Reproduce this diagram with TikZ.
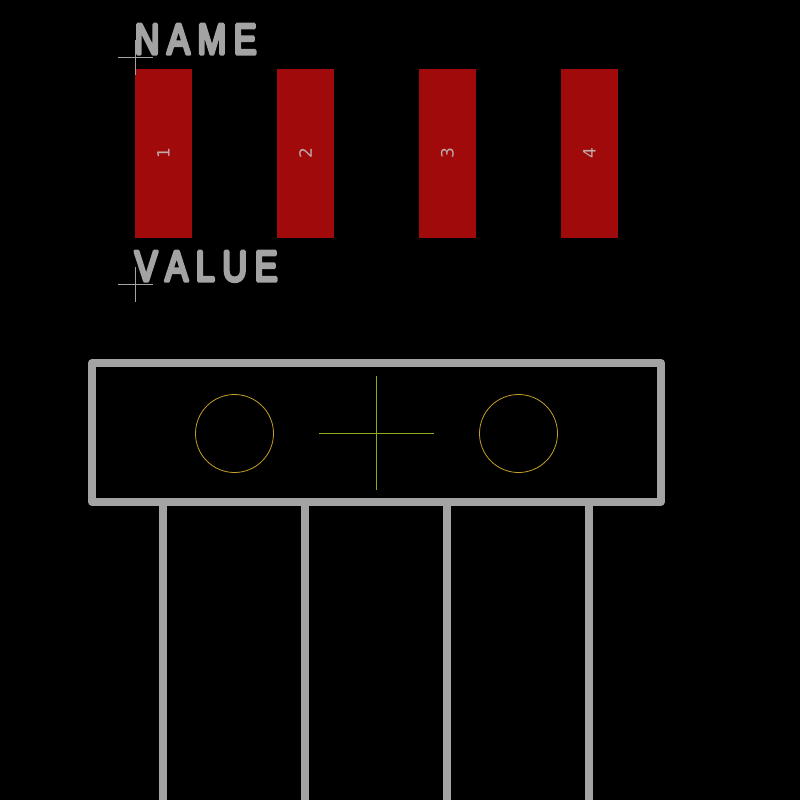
\documentclass[tikz,border=0pt]{standalone}
\usepackage{fontspec}
\setmainfont{DejaVu Sans}
\newfontfamily\silkfont[FakeBold=8,LetterSpace=22,Kerning=Off]{Liberation Sans}
\definecolor{padred}{RGB}{160,10,10}
\definecolor{silk}{RGB}{163,163,163}
\definecolor{padtext}{RGB}{190,170,170}
\definecolor{fabyellow}{RGB}{140,170,30}
\definecolor{holeyellow}{RGB}{194,160,40}
\tikzset{
  silkline/.style={draw=silk,line width=8pt,line cap=round,line join=round},
  padbox/.style={fill=padred,draw=none,minimum width=57pt,minimum height=169pt,inner sep=0pt,outer sep=0pt},
  padlabel/.style={text=padtext,font=\fontsize{17}{17}\selectfont,rotate=90,inner sep=0pt},
  refmark/.style={draw=silk,line width=1pt},
  fabline/.style={draw=fabyellow,line width=1pt},
  holeline/.style={draw=holeyellow,line width=0.8pt},
  silktext/.style={text=silk,font=\silkfont\fontsize{43}{43}\selectfont,anchor=base west,inner sep=0pt,xscale=0.80,transform shape}
}
\begin{document}
\begin{tikzpicture}[x=1pt,y=-1pt,line join=round]
\useasboundingbox[fill=black] (0,0) rectangle (800,800);
% pads
\foreach \i/\x in {1/163.5,2/305.5,3/447.5,4/589.5}{
  \node[padbox] (pad\i) at (\x,153.5) {};
  \node[padlabel] (plabel\i) at (pad\i) {\i};
}
% reference marks
\draw[refmark] (118,57.5) -- (153,57.5);
\draw[refmark] (135.5,40) -- (135.5,75);
\draw[refmark] (118,284.5) -- (153,284.5);
\draw[refmark] (135.5,267) -- (135.5,302);
% text
\begin{scope}[line join=round]
\node[silktext] (nametext) at (134.5,54) {NAME};
\node[silktext] (valuetext) at (134.5,281) {VALUE};
\end{scope}
% body
\draw[silkline] (92,363) rectangle (661,501.5);
\foreach \x in {163,305,447,589}{
  \draw[silkline,line cap=butt] (\x,501.5) -- (\x,800);
}
% holes
\draw[holeline] (234.5,433.5) circle (39);
\draw[holeline] (518.5,433.5) circle (39);
% centre
\draw[fabline] (319,433.5) -- (434,433.5);
\draw[fabline] (376.5,376) -- (376.5,490);
\end{tikzpicture}
\end{document}
